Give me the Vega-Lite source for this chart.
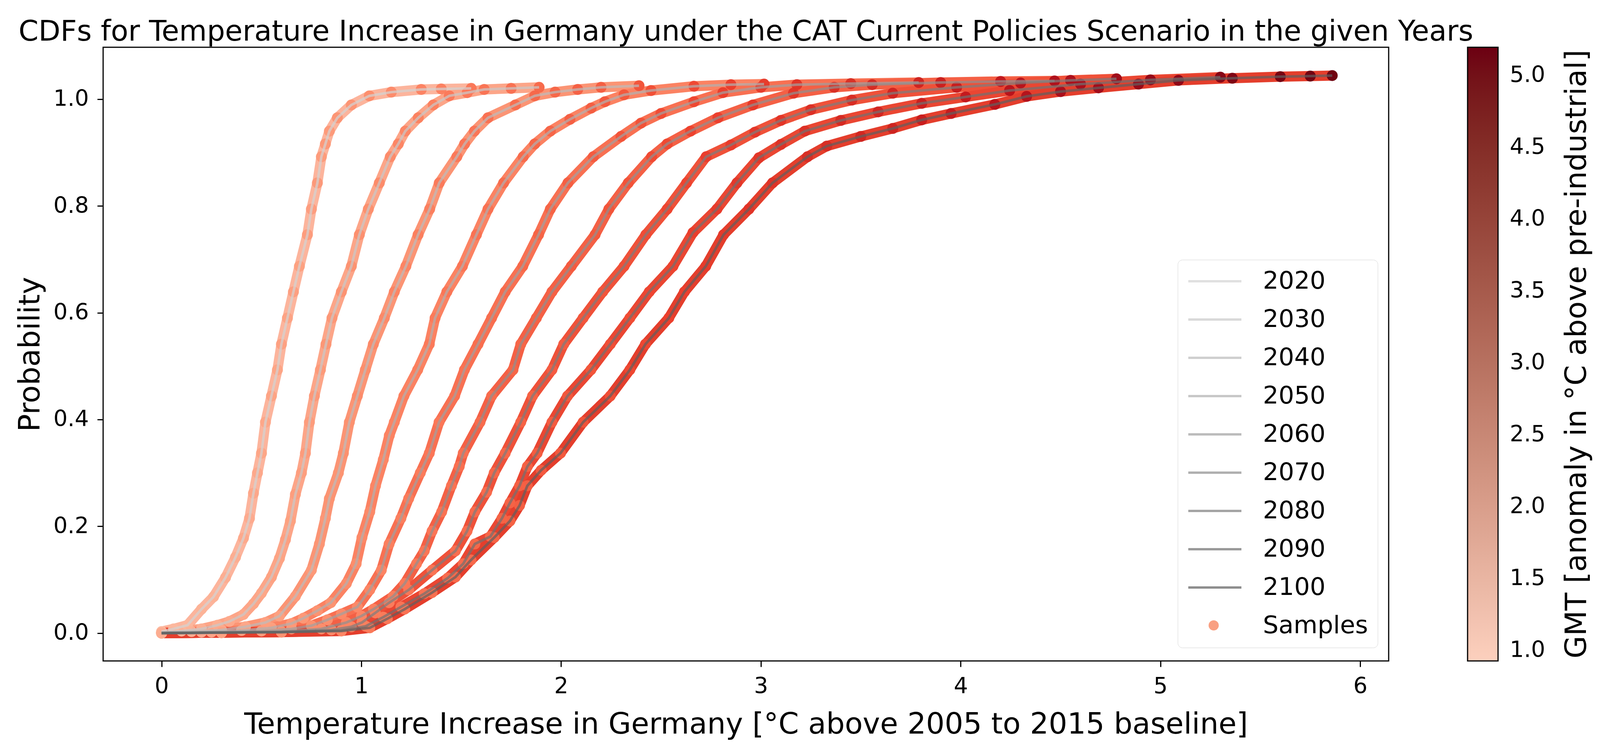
{
  "$schema": "https://vega.github.io/schema/vega-lite/v6.json",
  "width": 3291,
  "height": 1571,
  "autosize": "none",
  "padding": {"left": 264, "top": 121, "right": 650, "bottom": 228},
  "background": "white",
  "title": {
    "text": "CDFs for Temperature Increase in Germany under the CAT Current Policies Scenario in the given Years",
    "fontSize": 73, "fontWeight": "normal", "color": "black",
    "anchor": "middle", "frame": "group", "baseline": "alphabetic", "offset": -56
  },
  "data": {"values": [
    {"year":"2020","x":0.00,"p":0.003,"gmt":0.95},{"year":"2020","x":0.06,"p":0.008,"gmt":1.01},{"year":"2020","x":0.13,"p":0.015,"gmt":1.03},
    {"year":"2020","x":0.20,"p":0.045,"gmt":1.10},{"year":"2020","x":0.26,"p":0.068,"gmt":1.12},{"year":"2020","x":0.32,"p":0.104,"gmt":1.19},
    {"year":"2020","x":0.37,"p":0.142,"gmt":1.20},{"year":"2020","x":0.41,"p":0.178,"gmt":1.26},{"year":"2020","x":0.44,"p":0.215,"gmt":1.24},
    {"year":"2020","x":0.46,"p":0.262,"gmt":1.29},{"year":"2020","x":0.48,"p":0.300,"gmt":1.27},{"year":"2020","x":0.50,"p":0.337,"gmt":1.33},
    {"year":"2020","x":0.52,"p":0.395,"gmt":1.30},{"year":"2020","x":0.55,"p":0.444,"gmt":1.36},{"year":"2020","x":0.58,"p":0.493,"gmt":1.34},
    {"year":"2020","x":0.60,"p":0.541,"gmt":1.40},{"year":"2020","x":0.63,"p":0.590,"gmt":1.37},{"year":"2020","x":0.66,"p":0.639,"gmt":1.43},
    {"year":"2020","x":0.69,"p":0.687,"gmt":1.41},{"year":"2020","x":0.73,"p":0.746,"gmt":1.48},{"year":"2020","x":0.75,"p":0.794,"gmt":1.46},
    {"year":"2020","x":0.78,"p":0.843,"gmt":1.53},{"year":"2020","x":0.80,"p":0.892,"gmt":1.49},{"year":"2020","x":0.82,"p":0.916,"gmt":1.55},
    {"year":"2020","x":0.84,"p":0.940,"gmt":1.52},{"year":"2020","x":0.88,"p":0.965,"gmt":1.59},{"year":"2020","x":0.95,"p":0.989,"gmt":1.60},
    {"year":"2020","x":1.04,"p":1.006,"gmt":1.70},{"year":"2020","x":1.15,"p":1.013,"gmt":1.74},{"year":"2020","x":1.30,"p":1.018,"gmt":1.88},
    {"year":"2020","x":1.40,"p":1.019,"gmt":1.91},{"year":"2020","x":1.55,"p":1.020,"gmt":2.06},

    {"year":"2030","x":0.00,"p":0.001,"gmt":0.99},{"year":"2030","x":0.10,"p":0.004,"gmt":1.04},{"year":"2030","x":0.20,"p":0.008,"gmt":1.14},
    {"year":"2030","x":0.28,"p":0.015,"gmt":1.17},{"year":"2030","x":0.34,"p":0.022,"gmt":1.24},{"year":"2030","x":0.41,"p":0.035,"gmt":1.26},
    {"year":"2030","x":0.46,"p":0.055,"gmt":1.32},{"year":"2030","x":0.50,"p":0.075,"gmt":1.31},{"year":"2030","x":0.55,"p":0.105,"gmt":1.39},
    {"year":"2030","x":0.59,"p":0.140,"gmt":1.37},{"year":"2030","x":0.62,"p":0.175,"gmt":1.43},{"year":"2030","x":0.645,"p":0.210,"gmt":1.41},
    {"year":"2030","x":0.67,"p":0.260,"gmt":1.47},{"year":"2030","x":0.70,"p":0.300,"gmt":1.45},{"year":"2030","x":0.72,"p":0.337,"gmt":1.50},
    {"year":"2030","x":0.74,"p":0.395,"gmt":1.48},{"year":"2030","x":0.765,"p":0.444,"gmt":1.54},{"year":"2030","x":0.795,"p":0.493,"gmt":1.52},
    {"year":"2030","x":0.823,"p":0.541,"gmt":1.58},{"year":"2030","x":0.853,"p":0.590,"gmt":1.56},{"year":"2030","x":0.90,"p":0.639,"gmt":1.63},
    {"year":"2030","x":0.95,"p":0.687,"gmt":1.63},{"year":"2030","x":0.99,"p":0.746,"gmt":1.69},{"year":"2030","x":1.035,"p":0.794,"gmt":1.68},
    {"year":"2030","x":1.09,"p":0.843,"gmt":1.76},{"year":"2030","x":1.145,"p":0.892,"gmt":1.76},{"year":"2030","x":1.185,"p":0.916,"gmt":1.83},
    {"year":"2030","x":1.22,"p":0.940,"gmt":1.81},{"year":"2030","x":1.285,"p":0.965,"gmt":1.90},{"year":"2030","x":1.36,"p":0.989,"gmt":1.91},
    {"year":"2030","x":1.44,"p":1.006,"gmt":2.01},{"year":"2030","x":1.53,"p":1.012,"gmt":2.03},{"year":"2030","x":1.615,"p":1.018,"gmt":2.13},
    {"year":"2030","x":1.75,"p":1.020,"gmt":2.19},{"year":"2030","x":1.89,"p":1.022,"gmt":2.32},

    {"year":"2040","x":0.00,"p":0.001,"gmt":1.02},{"year":"2040","x":0.15,"p":0.003,"gmt":1.10},{"year":"2040","x":0.30,"p":0.006,"gmt":1.24},
    {"year":"2040","x":0.42,"p":0.012,"gmt":1.28},{"year":"2040","x":0.52,"p":0.020,"gmt":1.39},{"year":"2040","x":0.59,"p":0.032,"gmt":1.40},
    {"year":"2040","x":0.67,"p":0.069,"gmt":1.50},{"year":"2040","x":0.75,"p":0.118,"gmt":1.52},{"year":"2040","x":0.79,"p":0.167,"gmt":1.58},
    {"year":"2040","x":0.82,"p":0.215,"gmt":1.56},{"year":"2040","x":0.84,"p":0.252,"gmt":1.62},{"year":"2040","x":0.885,"p":0.300,"gmt":1.61},
    {"year":"2040","x":0.91,"p":0.337,"gmt":1.67},{"year":"2040","x":0.94,"p":0.395,"gmt":1.65},{"year":"2040","x":0.98,"p":0.444,"gmt":1.72},
    {"year":"2040","x":1.02,"p":0.493,"gmt":1.70},{"year":"2040","x":1.06,"p":0.541,"gmt":1.77},{"year":"2040","x":1.115,"p":0.590,"gmt":1.77},
    {"year":"2040","x":1.165,"p":0.639,"gmt":1.85},{"year":"2040","x":1.223,"p":0.687,"gmt":1.85},{"year":"2040","x":1.284,"p":0.746,"gmt":1.93},
    {"year":"2040","x":1.342,"p":0.794,"gmt":1.93},{"year":"2040","x":1.39,"p":0.843,"gmt":2.00},{"year":"2040","x":1.478,"p":0.892,"gmt":2.02},
    {"year":"2040","x":1.517,"p":0.916,"gmt":2.09},{"year":"2040","x":1.566,"p":0.940,"gmt":2.09},{"year":"2040","x":1.634,"p":0.965,"gmt":2.17},
    {"year":"2040","x":1.771,"p":0.989,"gmt":2.23},{"year":"2040","x":1.868,"p":1.006,"gmt":2.34},{"year":"2040","x":1.97,"p":1.013,"gmt":2.37},
    {"year":"2040","x":2.083,"p":1.018,"gmt":2.49},{"year":"2040","x":2.20,"p":1.022,"gmt":2.53},{"year":"2040","x":2.39,"p":1.025,"gmt":2.70},

    {"year":"2050","x":0.00,"p":0.001,"gmt":1.05},{"year":"2050","x":0.20,"p":0.002,"gmt":1.16},{"year":"2050","x":0.40,"p":0.005,"gmt":1.34},
    {"year":"2050","x":0.55,"p":0.010,"gmt":1.41},{"year":"2050","x":0.65,"p":0.018,"gmt":1.52},{"year":"2050","x":0.71,"p":0.028,"gmt":1.52},
    {"year":"2050","x":0.78,"p":0.042,"gmt":1.61},{"year":"2050","x":0.847,"p":0.057,"gmt":1.61},{"year":"2050","x":0.925,"p":0.093,"gmt":1.71},
    {"year":"2050","x":0.974,"p":0.130,"gmt":1.70},{"year":"2050","x":1.003,"p":0.179,"gmt":1.76},{"year":"2050","x":1.042,"p":0.227,"gmt":1.75},
    {"year":"2050","x":1.071,"p":0.276,"gmt":1.81},{"year":"2050","x":1.11,"p":0.325,"gmt":1.80},{"year":"2050","x":1.14,"p":0.370,"gmt":1.86},
    {"year":"2050","x":1.165,"p":0.395,"gmt":1.84},{"year":"2050","x":1.213,"p":0.444,"gmt":1.91},{"year":"2050","x":1.282,"p":0.493,"gmt":1.92},
    {"year":"2050","x":1.34,"p":0.541,"gmt":2.00},{"year":"2050","x":1.369,"p":0.590,"gmt":1.98},{"year":"2050","x":1.428,"p":0.639,"gmt":2.06},
    {"year":"2050","x":1.506,"p":0.687,"gmt":2.07},{"year":"2050","x":1.576,"p":0.746,"gmt":2.16},{"year":"2050","x":1.634,"p":0.794,"gmt":2.16},
    {"year":"2050","x":1.712,"p":0.843,"gmt":2.26},{"year":"2050","x":1.81,"p":0.892,"gmt":2.29},{"year":"2050","x":1.868,"p":0.916,"gmt":2.37},
    {"year":"2050","x":1.946,"p":0.940,"gmt":2.38},{"year":"2050","x":2.044,"p":0.962,"gmt":2.49},{"year":"2050","x":2.15,"p":0.983,"gmt":2.53},
    {"year":"2050","x":2.219,"p":0.995,"gmt":2.61},{"year":"2050","x":2.315,"p":1.008,"gmt":2.64},{"year":"2050","x":2.45,"p":1.016,"gmt":2.78},
    {"year":"2050","x":2.665,"p":1.024,"gmt":2.89},{"year":"2050","x":2.85,"p":1.027,"gmt":3.06},{"year":"2050","x":3.016,"p":1.028,"gmt":3.13},

    {"year":"2060","x":0.00,"p":0.001,"gmt":1.08},{"year":"2060","x":0.25,"p":0.002,"gmt":1.23},{"year":"2060","x":0.50,"p":0.004,"gmt":1.44},
    {"year":"2060","x":0.65,"p":0.008,"gmt":1.51},{"year":"2060","x":0.75,"p":0.014,"gmt":1.62},{"year":"2060","x":0.83,"p":0.025,"gmt":1.63},
    {"year":"2060","x":0.90,"p":0.036,"gmt":1.72},{"year":"2060","x":0.98,"p":0.049,"gmt":1.74},{"year":"2060","x":1.042,"p":0.081,"gmt":1.82},
    {"year":"2060","x":1.10,"p":0.118,"gmt":1.82},{"year":"2060","x":1.139,"p":0.167,"gmt":1.89},{"year":"2060","x":1.198,"p":0.215,"gmt":1.89},
    {"year":"2060","x":1.237,"p":0.252,"gmt":1.96},{"year":"2060","x":1.295,"p":0.300,"gmt":1.96},{"year":"2060","x":1.34,"p":0.337,"gmt":2.03},
    {"year":"2060","x":1.389,"p":0.395,"gmt":2.02},{"year":"2060","x":1.467,"p":0.444,"gmt":2.12},{"year":"2060","x":1.516,"p":0.493,"gmt":2.11},
    {"year":"2060","x":1.584,"p":0.541,"gmt":2.20},{"year":"2060","x":1.652,"p":0.590,"gmt":2.21},{"year":"2060","x":1.72,"p":0.639,"gmt":2.29},
    {"year":"2060","x":1.808,"p":0.687,"gmt":2.32},{"year":"2060","x":1.887,"p":0.746,"gmt":2.41},{"year":"2060","x":1.946,"p":0.794,"gmt":2.41},
    {"year":"2060","x":2.034,"p":0.843,"gmt":2.51},{"year":"2060","x":2.161,"p":0.892,"gmt":2.56},{"year":"2060","x":2.30,"p":0.930,"gmt":2.70},
    {"year":"2060","x":2.40,"p":0.955,"gmt":2.73},{"year":"2060","x":2.50,"p":0.973,"gmt":2.84},{"year":"2060","x":2.665,"p":0.995,"gmt":2.92},
    {"year":"2060","x":2.81,"p":1.012,"gmt":3.06},{"year":"2060","x":3.00,"p":1.022,"gmt":3.15},{"year":"2060","x":3.18,"p":1.027,"gmt":3.32},
    {"year":"2060","x":3.45,"p":1.029,"gmt":3.47},{"year":"2060","x":3.79,"p":1.031,"gmt":3.74},

    {"year":"2070","x":0.00,"p":0.000,"gmt":1.11},{"year":"2070","x":0.30,"p":0.001,"gmt":1.29},{"year":"2070","x":0.60,"p":0.003,"gmt":1.54},
    {"year":"2070","x":0.80,"p":0.008,"gmt":1.64},{"year":"2070","x":0.925,"p":0.020,"gmt":1.77},{"year":"2070","x":1.00,"p":0.032,"gmt":1.78},
    {"year":"2070","x":1.061,"p":0.045,"gmt":1.86},{"year":"2070","x":1.159,"p":0.069,"gmt":1.89},{"year":"2070","x":1.217,"p":0.093,"gmt":1.97},
    {"year":"2070","x":1.276,"p":0.130,"gmt":1.97},{"year":"2070","x":1.315,"p":0.154,"gmt":2.04},{"year":"2070","x":1.354,"p":0.191,"gmt":2.03},
    {"year":"2070","x":1.402,"p":0.227,"gmt":2.10},{"year":"2070","x":1.451,"p":0.276,"gmt":2.10},{"year":"2070","x":1.49,"p":0.312,"gmt":2.16},
    {"year":"2070","x":1.51,"p":0.337,"gmt":2.14},{"year":"2070","x":1.594,"p":0.395,"gmt":2.24},{"year":"2070","x":1.652,"p":0.444,"gmt":2.24},
    {"year":"2070","x":1.759,"p":0.493,"gmt":2.35},{"year":"2070","x":1.798,"p":0.541,"gmt":2.34},{"year":"2070","x":1.876,"p":0.590,"gmt":2.43},
    {"year":"2070","x":1.954,"p":0.639,"gmt":2.45},{"year":"2070","x":2.051,"p":0.687,"gmt":2.56},{"year":"2070","x":2.17,"p":0.746,"gmt":2.60},
    {"year":"2070","x":2.239,"p":0.794,"gmt":2.69},{"year":"2070","x":2.336,"p":0.843,"gmt":2.72},{"year":"2070","x":2.453,"p":0.892,"gmt":2.84},
    {"year":"2070","x":2.531,"p":0.916,"gmt":2.85},{"year":"2070","x":2.648,"p":0.940,"gmt":2.97},{"year":"2070","x":2.785,"p":0.965,"gmt":3.03},
    {"year":"2070","x":2.96,"p":0.989,"gmt":3.19},{"year":"2070","x":3.163,"p":1.011,"gmt":3.29},{"year":"2070","x":3.367,"p":1.022,"gmt":3.48},
    {"year":"2070","x":3.557,"p":1.027,"gmt":3.57},{"year":"2070","x":3.90,"p":1.031,"gmt":3.85},{"year":"2070","x":4.20,"p":1.033,"gmt":4.02},
    {"year":"2070","x":4.47,"p":1.034,"gmt":4.25},

    {"year":"2080","x":0.00,"p":0.000,"gmt":1.14},{"year":"2080","x":0.30,"p":0.001,"gmt":1.32},{"year":"2080","x":0.60,"p":0.002,"gmt":1.57},
    {"year":"2080","x":0.85,"p":0.006,"gmt":1.71},{"year":"2080","x":0.95,"p":0.012,"gmt":1.82},{"year":"2080","x":1.003,"p":0.020,"gmt":1.81},
    {"year":"2080","x":1.07,"p":0.038,"gmt":1.90},{"year":"2080","x":1.139,"p":0.057,"gmt":1.91},{"year":"2080","x":1.237,"p":0.081,"gmt":2.02},
    {"year":"2080","x":1.354,"p":0.118,"gmt":2.06},{"year":"2080","x":1.471,"p":0.154,"gmt":2.18},{"year":"2080","x":1.529,"p":0.191,"gmt":2.18},
    {"year":"2080","x":1.568,"p":0.227,"gmt":2.25},{"year":"2080","x":1.627,"p":0.264,"gmt":2.25},{"year":"2080","x":1.665,"p":0.300,"gmt":2.32},
    {"year":"2080","x":1.72,"p":0.337,"gmt":2.31},{"year":"2080","x":1.798,"p":0.395,"gmt":2.41},{"year":"2080","x":1.857,"p":0.444,"gmt":2.41},
    {"year":"2080","x":1.954,"p":0.493,"gmt":2.52},{"year":"2080","x":2.013,"p":0.541,"gmt":2.52},{"year":"2080","x":2.11,"p":0.590,"gmt":2.63},
    {"year":"2080","x":2.208,"p":0.639,"gmt":2.66},{"year":"2080","x":2.315,"p":0.687,"gmt":2.77},{"year":"2080","x":2.424,"p":0.746,"gmt":2.81},
    {"year":"2080","x":2.531,"p":0.794,"gmt":2.92},{"year":"2080","x":2.628,"p":0.843,"gmt":2.95},{"year":"2080","x":2.726,"p":0.892,"gmt":3.06},
    {"year":"2080","x":2.85,"p":0.914,"gmt":3.11},{"year":"2080","x":2.97,"p":0.938,"gmt":3.23},{"year":"2080","x":3.10,"p":0.960,"gmt":3.28},
    {"year":"2080","x":3.25,"p":0.980,"gmt":3.43},{"year":"2080","x":3.455,"p":0.998,"gmt":3.53},{"year":"2080","x":3.66,"p":1.011,"gmt":3.71},
    {"year":"2080","x":3.98,"p":1.022,"gmt":3.90},{"year":"2080","x":4.30,"p":1.030,"gmt":4.16},{"year":"2080","x":4.55,"p":1.035,"gmt":4.30},
    {"year":"2080","x":4.78,"p":1.038,"gmt":4.50},

    {"year":"2090","x":0.00,"p":0.000,"gmt":1.17},{"year":"2090","x":0.30,"p":0.001,"gmt":1.35},{"year":"2090","x":0.60,"p":0.002,"gmt":1.60},
    {"year":"2090","x":0.90,"p":0.005,"gmt":1.77},{"year":"2090","x":1.022,"p":0.013,"gmt":1.90},{"year":"2090","x":1.11,"p":0.030,"gmt":1.92},
    {"year":"2090","x":1.198,"p":0.049,"gmt":2.02},{"year":"2090","x":1.315,"p":0.074,"gmt":2.06},{"year":"2090","x":1.432,"p":0.103,"gmt":2.18},
    {"year":"2090","x":1.51,"p":0.130,"gmt":2.20},{"year":"2090","x":1.568,"p":0.167,"gmt":2.28},{"year":"2090","x":1.646,"p":0.181,"gmt":2.29},
    {"year":"2090","x":1.704,"p":0.215,"gmt":2.37},{"year":"2090","x":1.744,"p":0.244,"gmt":2.36},{"year":"2090","x":1.792,"p":0.276,"gmt":2.43},
    {"year":"2090","x":1.831,"p":0.312,"gmt":2.42},{"year":"2090","x":1.88,"p":0.337,"gmt":2.50},{"year":"2090","x":1.954,"p":0.395,"gmt":2.51},
    {"year":"2090","x":2.032,"p":0.444,"gmt":2.60},{"year":"2090","x":2.149,"p":0.493,"gmt":2.64},{"year":"2090","x":2.246,"p":0.541,"gmt":2.75},
    {"year":"2090","x":2.344,"p":0.590,"gmt":2.78},{"year":"2090","x":2.441,"p":0.639,"gmt":2.89},{"year":"2090","x":2.56,"p":0.687,"gmt":2.93},
    {"year":"2090","x":2.66,"p":0.750,"gmt":3.04},{"year":"2090","x":2.78,"p":0.794,"gmt":3.09},{"year":"2090","x":2.88,"p":0.843,"gmt":3.20},
    {"year":"2090","x":2.99,"p":0.890,"gmt":3.23},{"year":"2090","x":3.10,"p":0.915,"gmt":3.35},{"year":"2090","x":3.22,"p":0.940,"gmt":3.39},
    {"year":"2090","x":3.40,"p":0.960,"gmt":3.56},{"year":"2090","x":3.587,"p":0.976,"gmt":3.65},{"year":"2090","x":3.805,"p":0.992,"gmt":3.84},
    {"year":"2090","x":4.025,"p":1.004,"gmt":3.96},{"year":"2090","x":4.245,"p":1.016,"gmt":4.15},{"year":"2090","x":4.60,"p":1.028,"gmt":4.36},
    {"year":"2090","x":4.95,"p":1.036,"gmt":4.65},{"year":"2090","x":5.30,"p":1.041,"gmt":4.85},

    {"year":"2100","x":0.00,"p":0.000,"gmt":1.20},{"year":"2100","x":0.30,"p":0.001,"gmt":1.38},{"year":"2100","x":0.60,"p":0.002,"gmt":1.63},
    {"year":"2100","x":0.90,"p":0.004,"gmt":1.80},{"year":"2100","x":1.042,"p":0.010,"gmt":1.94},{"year":"2100","x":1.13,"p":0.027,"gmt":1.96},
    {"year":"2100","x":1.217,"p":0.045,"gmt":2.06},{"year":"2100","x":1.354,"p":0.076,"gmt":2.12},{"year":"2100","x":1.471,"p":0.105,"gmt":2.24},
    {"year":"2100","x":1.549,"p":0.137,"gmt":2.25},{"year":"2100","x":1.665,"p":0.179,"gmt":2.38},{"year":"2100","x":1.744,"p":0.210,"gmt":2.39},
    {"year":"2100","x":1.792,"p":0.239,"gmt":2.46},{"year":"2100","x":1.831,"p":0.276,"gmt":2.45},{"year":"2100","x":1.90,"p":0.305,"gmt":2.54},
    {"year":"2100","x":1.997,"p":0.337,"gmt":2.57},{"year":"2100","x":2.11,"p":0.395,"gmt":2.69},{"year":"2100","x":2.246,"p":0.444,"gmt":2.74},
    {"year":"2100","x":2.344,"p":0.493,"gmt":2.85},{"year":"2100","x":2.422,"p":0.541,"gmt":2.87},{"year":"2100","x":2.539,"p":0.590,"gmt":2.99},
    {"year":"2100","x":2.617,"p":0.639,"gmt":3.00},{"year":"2100","x":2.724,"p":0.687,"gmt":3.12},{"year":"2100","x":2.813,"p":0.746,"gmt":3.14},
    {"year":"2100","x":2.94,"p":0.794,"gmt":3.27},{"year":"2100","x":3.058,"p":0.843,"gmt":3.31},{"year":"2100","x":3.233,"p":0.892,"gmt":3.47},
    {"year":"2100","x":3.33,"p":0.912,"gmt":3.50},{"year":"2100","x":3.50,"p":0.930,"gmt":3.66},{"year":"2100","x":3.66,"p":0.945,"gmt":3.73},
    {"year":"2100","x":3.805,"p":0.961,"gmt":3.87},{"year":"2100","x":3.952,"p":0.973,"gmt":3.94},{"year":"2100","x":4.171,"p":0.990,"gmt":4.13},
    {"year":"2100","x":4.33,"p":1.005,"gmt":4.20},{"year":"2100","x":4.50,"p":1.014,"gmt":4.36},{"year":"2100","x":4.69,"p":1.021,"gmt":4.45},
    {"year":"2100","x":4.89,"p":1.028,"gmt":4.63},{"year":"2100","x":5.09,"p":1.035,"gmt":4.73},{"year":"2100","x":5.36,"p":1.039,"gmt":4.96},
    {"year":"2100","x":5.60,"p":1.042,"gmt":5.09},{"year":"2100","x":5.75,"p":1.043,"gmt":5.17},{"year":"2100","x":5.86,"p":1.044,"gmt":5.19}
  ]},
  "encoding": {
    "x": {
      "field": "x", "type": "quantitative",
      "scale": {"domain": [-0.2925, 6.1425], "nice": false, "zero": false},
      "axis": {"values": [0, 1, 2, 3, 4, 5, 6], "format": "d", "titlePadding": 33},
      "title": "Temperature Increase in Germany [°C above 2005 to 2015 baseline]"
    }
  },
  "layer": [
    {
      "mark": {"type": "line", "strokeWidth": 26, "strokeCap": "round", "strokeJoin": "round"},
      "encoding": {
        "y": {
          "field": "p", "type": "quantitative",
          "scale": {"domain": [-0.052, 1.097], "nice": false, "zero": false},
          "axis": {"values": [0, 0.2, 0.4, 0.6, 0.8, 1.0], "format": ".1f", "titlePadding": 20},
          "title": "Probability"
        },
        "color": {
          "field": "year", "type": "nominal", "legend": null,
          "scale": {
            "domain": ["2020", "2030", "2040", "2050", "2060", "2070", "2080", "2090", "2100"],
            "range": ["#fcb49c", "#fca588", "#fb9474", "#fb8262", "#f87052", "#f46045", "#ef5139", "#ea4632", "#e43e2c"]
          }
        }
      }
    },
    {
      "mark": {"type": "point", "filled": true, "size": 784, "opacity": 0.95},
      "encoding": {
        "y": {"field": "p", "type": "quantitative", "axis": null},
        "color": {
          "field": "gmt", "type": "quantitative", "legend": null,
          "scale": {
            "domain": [1.0, 2.0, 3.0, 4.0, 5.2],
            "range": ["#fcb99f", "#fb7858", "#ec3e2c", "#c0161c", "#680010"]
          }
        },
        "shape": {
          "datum": "Samples", "type": "nominal",
          "scale": {"range": ["circle"]},
          "legend": {
            "orient": "none", "legendX": 2830, "legendY": 1467,
            "title": null, "padding": 0,
            "symbolFillColor": "#f9a082", "symbolStrokeColor": "#f9a082", "symbolStrokeWidth": 0,
            "symbolSize": 676, "symbolOpacity": 1,
            "labelOpacity": 0, "labelFontSize": 10
          }
        }
      }
    },
    {
      "mark": {"type": "line", "strokeWidth": 6.5, "opacity": 0.7},
      "encoding": {
        "y": {"field": "p", "type": "quantitative", "axis": null},
        "color": {
          "field": "year", "type": "nominal",
          "scale": {
            "domain": ["2020", "2030", "2040", "2050", "2060", "2070", "2080", "2090", "2100", "Samples"],
            "range": ["#d3d3d3", "#c9c9c9", "#bcbcbc", "#b0b0b0", "#a1a1a1", "#909090", "#7e7e7e", "#707070", "#5f5f5f", "rgba(255,255,255,0)"]
          },
          "legend": {
            "orient": "none", "legendX": 2751, "legendY": 544,
            "title": null,
            "symbolType": "stroke", "symbolSize": 18496, "symbolStrokeWidth": 6,
            "clipHeight": 62,
            "labelFontSize": 63, "labelOffset": 52, "labelColor": "black", "labelLimit": 600,
            "rowPadding": 35, "padding": 24,
            "strokeColor": "#d6d6d6", "cornerRadius": 12
          }
        }
      }
    },
    {
      "mark": {"type": "circle", "opacity": 0},
      "encoding": {
        "y": {
          "field": "p", "type": "quantitative",
          "title": "GMT [anomaly in °C above pre-industrial]",
          "axis": {
            "orient": "right", "labels": false, "ticks": false, "domain": false, "grid": false,
            "titleAngle": 270, "titleAlign": "center", "titleBaseline": "top",
            "titleX": 445, "titleY": 785
          }
        },
        "color": {
          "field": "gmt", "type": "quantitative",
          "scale": {"domain": [0.927, 5.197], "range": ["#fcd0be", "#6c0012"], "nice": false},
          "legend": {
            "orient": "none", "legendX": 3493, "legendY": 0, "direction": "vertical",
            "gradientLength": 1571, "gradientThickness": 78,
            "gradientStrokeColor": "black", "gradientStrokeWidth": 3,
            "values": [1, 1.5, 2, 2.5, 3, 3.5, 4, 4.5, 5], "format": ".1f",
            "labelFontSize": 57, "labelOffset": 30, "labelColor": "black", "labelOverlap": false,
            "title": null, "padding": 0
          }
        }
      }
    }
  ],
  "resolve": {"scale": {"color": "independent"}, "axis": {"y": "independent"}},
  "config": {
    "font": "DejaVu Sans",
    "view": {"stroke": "black", "strokeWidth": 3},
    "axis": {
      "labelFontSize": 57, "titleFontSize": 75, "titleFontWeight": "normal",
      "labelColor": "black", "titleColor": "black",
      "tickColor": "black", "tickWidth": 3, "tickSize": 15, "labelPadding": 22,
      "domain": false, "grid": false
    }
  }
}
